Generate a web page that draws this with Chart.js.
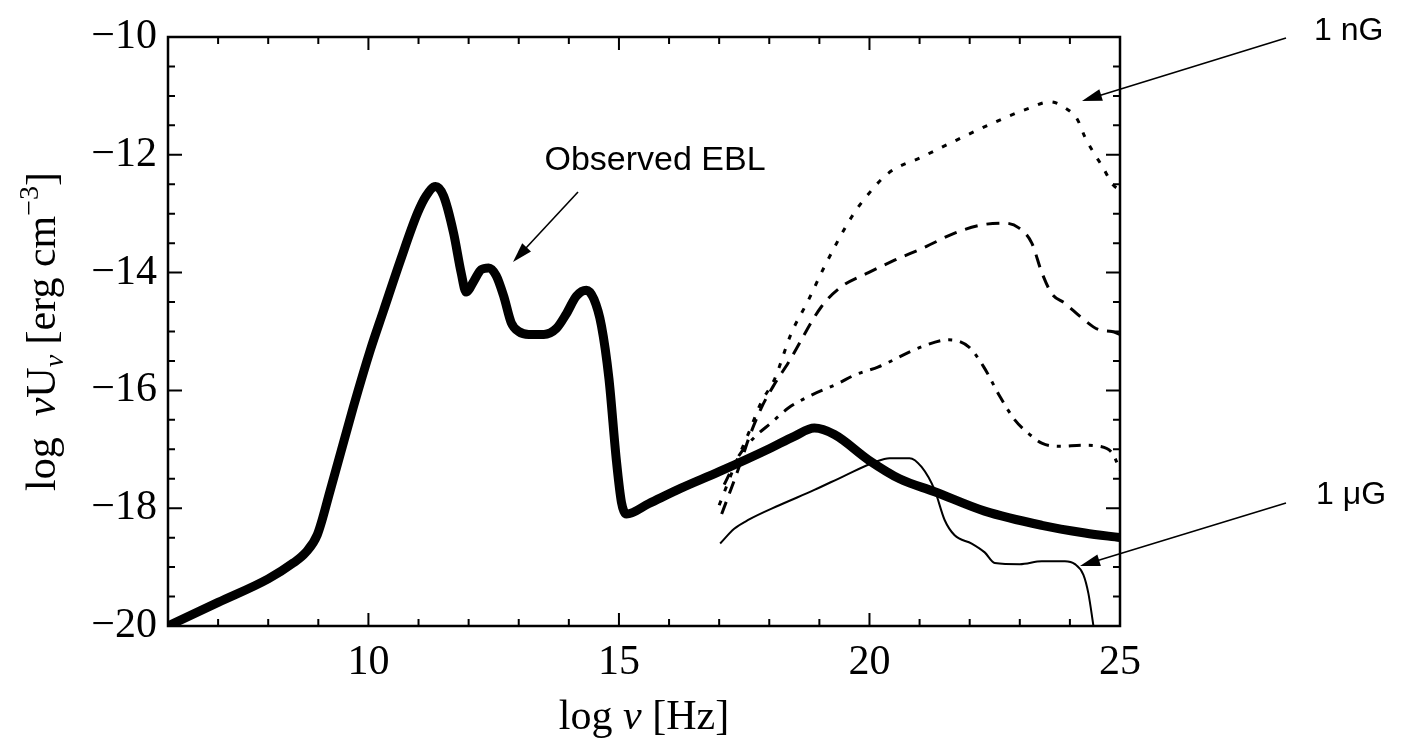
<!DOCTYPE html>
<html>
<head>
<meta charset="utf-8">
<script src="https://cdn.jsdelivr.net/npm/chart.js@4.4.0/dist/chart.umd.min.js"></script>
<style>
  html, body { margin: 0; padding: 0; background: #fff; }
  #wrap { width: 1421px; height: 744px; }
</style>
</head>
<body>
<div id="wrap"><canvas id="eblChart" width="1421" height="744"></canvas></div>
<script>

/* DATA (log nu [Hz], log nuU_nu [erg cm^-3]) */

const eblNu = [6, 7, 8, 8.5, 8.75, 8.98, 9.24, 9.7, 10.04, 10.3, 10.64, 10.98, 11.15, 11.34, 11.5, 11.7, 11.85, 11.95, 12.1, 12.25, 12.4, 12.55, 12.7, 12.85, 13.0, 13.2, 13.5, 13.75, 13.95, 14.15, 14.35, 14.5, 14.65, 14.8, 14.95, 15.05, 15.15, 15.6, 16.24, 17.0, 18.0, 18.5, 18.9, 19.3, 19.98, 20.6, 21.3, 22.3, 23.44, 24.3, 25];
const eblU  = [-20, -19.6, -19.2, -18.93, -18.75, -18.45, -17.69, -16.28, -15.31, -14.65, -13.79, -12.99, -12.7, -12.54, -12.7, -13.33, -14.0, -14.33, -14.15, -13.95, -13.92, -14.05, -14.4, -14.85, -15.0, -15.05, -15.05, -14.95, -14.7, -14.4, -14.3, -14.45, -14.9, -15.8, -17.2, -17.9, -18.1, -17.92, -17.66, -17.38, -16.99, -16.78, -16.64, -16.75, -17.18, -17.5, -17.72, -18.05, -18.29, -18.42, -18.5];

const nGNu = [17.0, 17.3, 17.6, 17.84, 18.1, 18.44, 18.78, 19.1, 19.64, 19.88, 20.38, 21.04, 21.74, 22.44, 23.18, 23.6, 23.9, 24.15, 24.3, 24.5, 24.65, 24.85, 25];
const nGU  = [-17.95, -17.3, -16.7, -16.2, -15.82, -15.03, -14.47, -13.9, -13.06, -12.77, -12.31, -12.04, -11.75, -11.47, -11.21, -11.1, -11.2, -11.4, -11.7, -12.0, -12.2, -12.5, -12.6];

const midNu = [17.05, 17.44, 17.58, 17.84, 18.1, 18.38, 19.04, 19.44, 19.98, 20.5, 21.1, 21.7, 22.24, 22.7, 22.98, 23.24, 23.44, 23.64, 23.9, 24.24, 24.58, 24.84, 25];
const midU  = [-18.1, -17.2, -16.84, -16.3, -15.9, -15.53, -14.58, -14.24, -14.0, -13.79, -13.57, -13.33, -13.19, -13.16, -13.24, -13.5, -14.0, -14.36, -14.52, -14.77, -14.97, -15.0, -15.05];

const lowNu = [17.1, 17.4, 17.7, 18.04, 18.38, 18.84, 19.38, 19.7, 20.18, 21.04, 21.58, 21.98, 22.28, 22.6, 22.9, 23.2, 23.45, 23.8, 24.25, 24.6, 24.85, 25];
const lowU  = [-17.6, -17.1, -16.8, -16.55, -16.3, -16.08, -15.88, -15.74, -15.6, -15.26, -15.14, -15.26, -15.6, -16.1, -16.5, -16.75, -16.9, -16.95, -16.93, -16.95, -17.07, -17.35];

const muGNu = [17.02, 17.3, 17.58, 18.2, 18.9, 19.5, 20.1, 20.4, 20.8, 21.04, 21.3, 21.5, 21.7, 22.04, 22.3, 22.5, 23.0, 23.44, 23.9, 24.1, 24.27, 24.37, 24.47];
const muGU  = [-18.6, -18.35, -18.2, -17.95, -17.69, -17.45, -17.22, -17.15, -17.15, -17.3, -17.69, -18.2, -18.46, -18.6, -18.75, -18.93, -18.95, -18.9, -18.9, -18.95, -19.13, -19.45, -20.0];

const xTicks = [10, 15, 20, 25];
const yTicks = [-20, -18, -16, -14, -12, -10];


/* HELPERS */

function pts(xs, ys) {
  return xs.map((x, i) => ({ x: x, y: ys[i] }));
}

function minus(v) {
  return v < 0 ? "\u2212" + Math.abs(v) : String(v);
}

const serif = '"Liberation Serif", "Times New Roman", serif';
const sans = '"Liberation Sans", Arial, sans-serif';

function line(data, width, dash) {
  return {
    data: data,
    showLine: true,
    borderColor: "#000",
    borderWidth: width,
    borderDash: dash,
    borderJoinStyle: "round",
    pointRadius: 0,
    cubicInterpolationMode: "monotone",
    clip: 0
  };
}


/* FRAME, TICKS, TITLES, ARROWS */

function arrow(ctx, x1, y1, x2, y2) {
  const a = Math.atan2(y2 - y1, x2 - x1);
  const len = 20, half = 6;
  ctx.beginPath();
  ctx.moveTo(x1, y1);
  ctx.lineTo(x2 - Math.cos(a) * len * 0.8, y2 - Math.sin(a) * len * 0.8);
  ctx.stroke();
  ctx.beginPath();
  ctx.moveTo(x2, y2);
  ctx.lineTo(x2 - Math.cos(a) * len + Math.sin(a) * half, y2 - Math.sin(a) * len - Math.cos(a) * half);
  ctx.lineTo(x2 - Math.cos(a) * len - Math.sin(a) * half, y2 - Math.sin(a) * len + Math.cos(a) * half);
  ctx.closePath();
  ctx.fill();
}

const framePlugin = {
  id: "frame",
  afterDraw(chart) {
    const ctx = chart.ctx;
    const a = chart.chartArea;
    const xs = chart.scales.x, ys = chart.scales.y;

    ctx.save();
    ctx.strokeStyle = "#000";
    ctx.fillStyle = "#000";

    // border
    ctx.lineWidth = 2.5;
    ctx.strokeRect(a.left, a.top, a.right - a.left, a.bottom - a.top);

    // x ticks, bottom and top
    ctx.lineWidth = 2;
    for (let v = 7; v < 25; v++) {
      const px = xs.getPixelForValue(v);
      const l = v % 5 === 0 ? 13 : 7;
      ctx.beginPath();
      ctx.moveTo(px, a.bottom); ctx.lineTo(px, a.bottom - l);
      ctx.moveTo(px, a.top); ctx.lineTo(px, a.top + l);
      ctx.stroke();
    }

    // y ticks, left and right
    for (let v = -19.5; v < -10; v += 0.5) {
      const py = ys.getPixelForValue(v);
      const l = v % 2 === 0 ? 14 : 7;
      ctx.beginPath();
      ctx.moveTo(a.left, py); ctx.lineTo(a.left + l, py);
      ctx.moveTo(a.right, py); ctx.lineTo(a.right - l, py);
      ctx.stroke();
    }

    // x title
    ctx.textBaseline = "alphabetic";
    const f = "42px " + serif, fi = "italic 42px " + serif;
    const parts = [["log ", f], ["\u03bd", fi], [" [Hz]", f]];
    let w = 0;
    parts.forEach(p => { ctx.font = p[1]; w += ctx.measureText(p[0]).width; });
    let x = (a.left + a.right) / 2 - w / 2;
    parts.forEach(p => {
      ctx.font = p[1];
      ctx.fillText(p[0], x, 729);
      x += ctx.measureText(p[0]).width;
    });

    // y title (rotated)
    ctx.save();
    ctx.translate(55, (a.top + a.bottom) / 2);
    ctx.rotate(-Math.PI / 2);
    const yParts = [
      ["log  ", f, 0], ["\u03bd", fi, 0], ["U", f, 0], ["\u03bd", "italic 28px " + serif, 8],
      [" [erg cm", f, 0], ["\u22123", "28px " + serif, -17], ["]", f, 0]
    ];
    w = 0;
    yParts.forEach(p => { ctx.font = p[1]; w += ctx.measureText(p[0]).width; });
    x = -w / 2;
    yParts.forEach(p => {
      ctx.font = p[1];
      ctx.fillText(p[0], x, p[2]);
      x += ctx.measureText(p[0]).width;
    });
    ctx.restore();

    // annotations
    ctx.font = "34px " + sans;
    ctx.textAlign = "center";
    ctx.fillText("Observed EBL", 655, 170);
    ctx.textAlign = "left";
    ctx.font = "32px " + sans;
    ctx.fillText("1 nG", 1314, 40);
    ctx.fillText("1 \u03bcG", 1316, 504);

    ctx.lineWidth = 1.6;
    arrow(ctx, 578, 192, 513, 262);
    arrow(ctx, 1286, 38, 1082, 101);
    arrow(ctx, 1286, 503, 1080, 566);

    ctx.restore();
  }
};


/* CHART */

new Chart(document.getElementById("eblChart"), {
  type: "scatter",
  data: {
    datasets: [
      line(pts(eblNu, eblU), 9, []),
      line(pts(nGNu, nGU), 3, [5, 10]),
      line(pts(midNu, midU), 3, [13, 9]),
      line(pts(lowNu, lowU), 3, [12, 8, 4, 8]),
      line(pts(muGNu, muGU), 2, [])
    ]
  },
  options: {
    responsive: false,
    animation: false,
    devicePixelRatio: 1,
    layout: { padding: { top: 37, right: 301, bottom: 0, left: 0 } },
    plugins: { legend: { display: false }, tooltip: { enabled: false } },
    scales: {
      x: {
        type: "linear",
        min: 6,
        max: 25,
        afterBuildTicks: s => { s.ticks = xTicks.map(v => ({ value: v })); },
        afterFit: s => { s.height = 118; },
        grid: { display: false, drawTicks: false },
        border: { display: false },
        ticks: {
          color: "#000",
          padding: 12,
          maxRotation: 0,
          font: { family: serif, size: 42 },
          callback: v => minus(v)
        }
      },
      y: {
        type: "linear",
        min: -20,
        max: -10,
        afterBuildTicks: s => { s.ticks = yTicks.map(v => ({ value: v })); },
        afterFit: s => { s.width = 168; },
        grid: { display: false, drawTicks: false },
        border: { display: false },
        ticks: {
          color: "#000",
          padding: 11,
          font: { family: serif, size: 42 },
          callback: v => minus(v)
        }
      }
    }
  },
  plugins: [framePlugin]
});

</script>
</body>
</html>
